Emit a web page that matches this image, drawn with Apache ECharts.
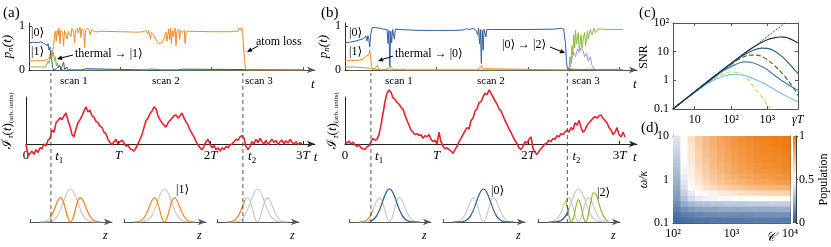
<!DOCTYPE html>
<html><head><meta charset="utf-8">
<script src="https://cdn.jsdelivr.net/npm/echarts@6/dist/echarts.min.js"></script>
<style>html,body{margin:0;padding:0;background:#fff}#c{width:831px;height:247px}</style>
</head><body><div id="c"></div>
<script>
// ================= DATA =================
// (a) populations p_n(t), t in units of T
const aTop_p0 = [[0,0.62],[0.05,0.63],[0.1,0.62],[0.13,0.64],[0.15,0.66],[0.17,0.6],[0.19,0.63],[0.2,0.55],[0.21,0.6],[0.22,0.45],[0.23,0.52],[0.24,0.3],[0.25,0.22],[0.26,0.06],[0.27,0],[0.3,0.03],[0.32,0],[0.34,0.1],[0.35,0],[0.38,0.18],[0.39,0.02],[0.42,0.06],[0.43,0],[0.55,0],[0.57,0.04],[0.58,0],[0.62,0.03],[0.64,0],[1.3,0],[1.32,0.02],[1.34,0],[1.6,0],[1.62,0.03],[1.64,0],[1.68,0.02],[1.7,0],[3.0,0]];
const aTop_p1 = [[0,0.21],[0.15,0.21],[0.2,0.24],[0.23,0.3],[0.25,0.35],[0.26,0.42],[0.27,0.55],[0.28,0.75],[0.29,0.88],[0.30,0.66],[0.31,0.9],[0.32,0.78],[0.33,0.95],[0.34,0.6],[0.35,0.9],[0.37,0.85],[0.38,0.55],[0.39,0.9],[0.41,0.93],[0.42,0.7],[0.43,0.88],[0.45,0.92],[0.46,0.76],[0.47,0.95],[0.49,0.85],[0.50,0.62],[0.51,0.9],[0.53,0.95],[0.54,0.84],[0.56,0.97],[0.57,0.74],[0.58,0.93],[0.60,0.88],[0.61,0.5],[0.62,0.9],[0.64,0.95],[0.66,0.9],[0.67,0.8],[0.69,0.92],[0.71,0.87],[0.73,0.84],[0.76,0.87],[0.8,0.88],[1.0,0.87],[1.2,0.86],[1.25,0.87],[1.28,0.9],[1.30,0.82],[1.31,0.9],[1.33,0.7],[1.34,0.85],[1.36,0.8],[1.38,0.74],[1.40,0.65],[1.42,0.6],[1.44,0.56],[1.46,0.62],[1.48,0.72],[1.50,0.86],[1.51,0.65],[1.53,0.93],[1.54,0.68],[1.55,0.95],[1.56,0.6],[1.57,0.9],[1.58,0.75],[1.60,0.95],[1.61,0.55],[1.62,0.88],[1.64,0.93],[1.65,0.7],[1.66,0.9],[1.68,0.85],[1.70,0.9],[1.71,0.6],[1.72,0.87],[1.75,0.88],[2.0,0.87],[2.2,0.87],[2.25,0.88],[2.27,0.91],[2.29,0.88],[2.30,0.95],[2.32,0.9],[2.33,0.96],[2.34,0.85],[2.35,0.5],[2.36,0.2],[2.37,0.05],[2.38,0],[3.0,0]];
const aTop_p2 = [[0,0.07],[0.15,0.07],[0.18,0.06],[0.2,0.1],[0.21,0.2],[0.22,0.15],[0.23,0.35],[0.24,0.25],[0.25,0.45],[0.26,0.3],[0.27,0.4],[0.28,0.2],[0.29,0.3],[0.30,0.1],[0.31,0.16],[0.32,0.05],[0.33,0.12],[0.35,0.02],[0.37,0.06],[0.38,0],[1.3,0],[1.33,0.03],[1.35,0],[1.45,0],[1.47,0.02],[1.5,0],[3.0,0]];
// (b) populations
const bTop_p0 = [[0,0.62],[0.05,0.63],[0.1,0.65],[0.15,0.68],[0.2,0.71],[0.22,0.7],[0.23,0.77],[0.24,0.66],[0.25,0.78],[0.26,0.72],[0.27,0.52],[0.28,0.8],[0.29,0.9],[0.30,0.97],[0.32,0.93],[0.34,0.96],[0.36,0.92],[0.38,0.95],[0.42,0.93],[0.46,0.92],[0.47,0.6],[0.48,0.9],[0.49,0.08],[0.50,0.88],[0.51,0.62],[0.52,0.92],[0.54,0.7],[0.55,0.93],[0.6,0.92],[0.7,0.91],[0.8,0.9],[1.0,0.9],[1.2,0.9],[1.3,0.91],[1.33,0.94],[1.36,0.92],[1.4,0.95],[1.43,0.9],[1.45,0.8],[1.46,0.95],[1.47,0.6],[1.48,0.92],[1.49,0.15],[1.5,0.9],[1.51,0.45],[1.52,0.93],[1.54,0.75],[1.55,0.92],[1.6,0.92],[2.0,0.92],[2.3,0.93],[2.36,0.95],[2.39,0.93],[2.41,0.6],[2.42,0.2],[2.43,0.03],[2.46,0.01],[2.5,0],[3.04,0]];
const bTop_p1 = [[0,0.22],[0.15,0.22],[0.2,0.25],[0.22,0.3],[0.24,0.28],[0.26,0.35],[0.27,0.45],[0.28,0.3],[0.29,0.1],[0.30,0.02],[0.33,0.05],[0.35,0.1],[0.37,0.02],[0.40,0],[0.48,0.03],[0.50,0.09],[0.52,0.02],[0.54,0],[0.6,0],[0.63,0.03],[0.66,0],[1.44,0],[1.47,0.04],[1.49,0.1],[1.51,0.03],[1.53,0],[2.42,0],[2.45,0.03],[2.5,0.02],[2.6,0.01],[2.7,0.02],[2.75,0],[3.04,0]];
const bTop_p2 = [[0,0.07],[0.1,0.065],[0.2,0.055],[0.27,0.04],[0.3,0.02],[0.35,0.01],[0.4,0],[2.43,0],[2.45,0.08],[2.46,0.3],[2.47,0.15],[2.48,0.55],[2.49,0.35],[2.50,0.8],[2.51,0.5],[2.52,0.9],[2.53,0.6],[2.55,0.85],[2.56,0.45],[2.58,0.8],[2.59,0.5],[2.61,0.78],[2.62,0.85],[2.63,0.55],[2.65,0.88],[2.66,0.7],[2.68,0.92],[2.70,0.8],[2.72,0.95],[2.74,0.85],[2.76,0.93],[2.78,0.9],[2.80,0.93],[2.9,0.92],[3.0,0.92],[3.04,0.92]];
const bTop_p3 = [[2.43,0],[2.46,0.05],[2.48,0.25],[2.50,0.4],[2.52,0.3],[2.54,0.48],[2.56,0.4],[2.58,0.5],[2.60,0.45],[2.62,0.3],[2.64,0.38],[2.66,0.2],[2.68,0.3],[2.70,0.1],[2.72,0.03],[2.75,0],[3.04,0]];
// signal I_tau(t): uniformly sampled (dt in units of T)
const redA_dt = 0.02167;
const redA = [0.0,-0.25,-0.2,-0.15,-0.22,-0.12,-0.18,-0.08,-0.1,0.0,
-0.04,0.08,0.12,0.3,0.25,0.45,0.5,0.56,0.52,0.6,
0.66,0.5,0.38,0.2,0.15,0.32,0.45,0.52,0.6,0.7,
0.79,0.68,0.72,0.6,0.57,0.48,0.46,0.38,0.35,0.25,
0.22,0.1,0.03,-0.02,0.05,0.1,0.0,0.05,0.08,0.02,
-0.05,-0.02,-0.1,-0.12,-0.15,-0.08,0.0,0.1,0.2,0.35,
0.5,0.55,0.65,0.7,0.79,0.75,0.6,0.52,0.45,0.4,
0.36,0.45,0.5,0.55,0.6,0.62,0.55,0.6,0.66,0.55,
0.47,0.4,0.3,0.22,0.15,0.05,-0.02,-0.08,-0.12,-0.05,
0.05,0.1,0.0,-0.08,-0.03,-0.12,-0.08,-0.15,-0.08,-0.12,
-0.05,-0.08,-0.02,0.0,0.05,0.1,0.08,0.15,0.18,0.12,
-0.05,-0.12,-0.05,0.05,0.0,0.1,0.03,0.12,0.05,0.0,
0.08,-0.02,0.05,0.1,0.03,0.08,-0.02,0.05,0.08,0.0,
0.07,0.02,0.1,0.04,0.0,0.05,-0.02,0.03,0.0];
const redB_dt = 0.02186;
const redB = [0.05,0.02,0.06,0.0,0.04,-0.02,-0.05,-0.02,-0.08,-0.1,
-0.12,-0.06,-0.04,0.05,0.12,0.08,0.1,0.2,0.4,0.65,
0.9,1.08,1.15,1.1,0.98,0.95,0.88,0.85,0.78,0.74,
0.62,0.5,0.4,0.3,0.25,0.2,0.22,0.18,0.2,0.12,
0.18,0.15,0.2,0.1,0.05,0.08,0.0,0.25,0.05,-0.05,
-0.1,-0.08,-0.12,-0.15,-0.2,-0.12,-0.05,0.05,0.12,0.2,
0.28,0.35,0.32,0.5,0.55,0.7,0.75,0.88,0.9,1.0,
1.08,1.05,1.15,1.08,1.0,0.92,0.85,0.75,0.7,0.6,
0.5,0.42,0.32,0.25,0.15,0.08,0.0,-0.08,-0.12,-0.05,
0.05,0.02,0.1,0.15,-0.1,-0.18,-0.22,-0.15,-0.1,-0.05,
0.0,0.02,0.08,0.05,0.12,0.1,0.18,0.15,0.22,0.2,
0.25,0.3,0.25,0.35,0.3,0.45,0.4,0.5,0.35,0.25,
0.3,0.4,0.45,0.5,0.55,0.58,0.55,0.6,0.62,0.55,
0.5,0.45,0.35,0.3,0.2,0.25,0.35,0.2,0.15,0.25,
0.15];
const scanTimesA = [0.27, 2.35];
const scanTimesB = [0.283, 2.43];
const midTickText = ['0','t1','T','2T','t2','3T'];
// wavefunction densities vs z
const zGrid = [-3,-2.75,-2.5,-2.25,-2,-1.75,-1.5,-1.25,-1,-0.75,-0.5,-0.25,0,0.25,0.5,0.75,1,1.25,1.5,1.75,2,2.25,2.5,2.75,3];
const psi0 = [0.0001,0.0005,0.0019,0.0063,0.0183,0.0468,0.1054,0.2096,0.3679,0.5698,0.7788,0.9394,1,0.9394,0.7788,0.5698,0.3679,0.2096,0.1054,0.0468,0.0183,0.0063,0.0019,0.0005,0.0001];
const psi1 = [0.0022,0.0079,0.0241,0.0641,0.1465,0.2866,0.4743,0.655,0.7358,0.641,0.3894,0.1174,0,0.1174,0.3894,0.641,0.7358,0.655,0.4743,0.2866,0.1465,0.0641,0.0241,0.0079,0.0022];
const psi2 = [0.02,0.07,0.17,0.36,0.61,0.84,0.88,0.64,0.25,0.006,0.13,0.49,0.68,0.49,0.13,0.006,0.25,0.64,0.88,0.84,0.61,0.36,0.17,0.07,0.02];
// (c) SNR vs gamma T
const snrRef   = [[2.5,0.1],[3100,100]];
const snrNavy  = [[2.5,0.1],[10,0.4],[30,1.2],[100,3.9],[300,11],[600,19],[1000,26],[1500,30],[2200,32.5],[3000,32],[4000,29],[5500,24],[7100,20]];
const snrTeal  = [[2.5,0.1],[10,0.4],[30,1.2],[100,3.8],[200,7],[400,11],[700,13.3],[1000,13],[1500,11],[2500,7],[4000,3.8],[7100,1.7]];
const snrOlive = [[2.5,0.1],[10,0.4],[30,1.2],[100,3.6],[200,6.2],[350,7.6],[500,7.6],[800,6.3],[1500,3.5],[3000,1.4],[5000,0.6],[7100,0.3]];
const snrMid   = [[2.5,0.1],[10,0.39],[30,1.1],[60,2.1],[100,3],[180,4.2],[250,4.4],[400,4.1],[800,2.8],[1500,1.6],[3000,0.85],[7100,0.44]];
const snrLight = [[2.5,0.1],[10,0.38],[30,0.95],[70,1.45],[100,1.58],[150,1.6],[300,1.35],[700,0.85],[1500,0.5],[3000,0.3],[7100,0.18]];
const snrLime  = [[2.5,0.1],[10,0.38],[30,1.0],[60,1.65],[100,1.95],[150,1.85],[250,1.3],[400,0.65],[700,0.27],[1000,0.14],[1300,0.09]];
// (d) population map: cell centres in log10 C and log10(omega/kappa); rows from top (high omega) to bottom
const hmLogC = [2.0625,2.1875,2.3125,2.4375,2.5625,2.6875,2.8125,2.9375,3.0625,3.1875,3.3125,3.4375,3.5625,3.6875,3.8125,3.9375];
const hmLogW = [0.9375,0.8125,0.6875,0.5625,0.4375,0.3125,0.1875,0.0625,-0.0625,-0.1875,-0.3125,-0.4375,-0.5625,-0.6875,-0.8125,-0.9375];
const popRows = [
[0.42,0.52,0.62,0.70,0.76,0.80,0.84,0.87,0.90,0.92,0.94,0.96,0.97,0.98,0.99,1.00],
[0.40,0.51,0.61,0.69,0.75,0.79,0.83,0.86,0.89,0.91,0.93,0.95,0.96,0.97,0.98,0.99],
[0.38,0.50,0.60,0.68,0.74,0.78,0.82,0.85,0.88,0.90,0.92,0.94,0.95,0.96,0.97,0.98],
[0.36,0.50,0.59,0.67,0.73,0.77,0.81,0.84,0.87,0.89,0.91,0.93,0.94,0.95,0.96,0.97],
[0.34,0.49,0.58,0.66,0.72,0.76,0.80,0.83,0.86,0.88,0.90,0.92,0.93,0.94,0.95,0.96],
[0.32,0.48,0.57,0.65,0.70,0.75,0.78,0.82,0.84,0.87,0.89,0.90,0.92,0.93,0.94,0.95],
[0.30,0.47,0.56,0.63,0.69,0.73,0.77,0.80,0.83,0.85,0.87,0.89,0.90,0.91,0.92,0.93],
[0.28,0.45,0.55,0.61,0.67,0.71,0.75,0.78,0.80,0.83,0.85,0.86,0.88,0.89,0.90,0.91],
[0.26,0.43,0.53,0.59,0.64,0.68,0.72,0.75,0.77,0.79,0.81,0.83,0.84,0.85,0.86,0.87],
[0.24,0.40,0.49,0.55,0.60,0.63,0.66,0.68,0.70,0.72,0.74,0.75,0.76,0.77,0.78,0.79],
[0.22,0.36,0.44,0.49,0.52,0.55,0.57,0.59,0.60,0.62,0.63,0.64,0.65,0.66,0.66,0.67],
[0.20,0.32,0.40,0.44,0.46,0.47,0.48,0.48,0.49,0.49,0.50,0.50,0.50,0.51,0.51,0.51],
[0.16,0.24,0.29,0.31,0.32,0.33,0.33,0.34,0.34,0.34,0.35,0.35,0.35,0.36,0.36,0.36],
[0.12,0.17,0.20,0.22,0.23,0.23,0.24,0.24,0.24,0.25,0.25,0.25,0.25,0.25,0.26,0.26],
[0.08,0.11,0.13,0.14,0.15,0.15,0.16,0.16,0.16,0.16,0.16,0.17,0.17,0.17,0.17,0.17],
[0.05,0.07,0.08,0.09,0.09,0.10,0.10,0.10,0.10,0.10,0.10,0.11,0.11,0.11,0.11,0.11]];

// ================= BUILD =================
const FONT = '"Liberation Serif","DejaVu Serif",serif';
const COL = {orange:'#f5891f', blue:'#33609e', green:'#8cb83a', purple:'#a093dc', red:'#e8222b', gray:'#c9c9c9'};
const grids=[], xAxes=[], yAxes=[], series=[], visualMaps=[], graphics=[];
const addGrid=g=>{grids.push(g);return grids.length-1;};
const addX=a=>{xAxes.push(Object.assign({type:'value',splitLine:{show:false}},a));return xAxes.length-1;};
const addY=a=>{yAxes.push(Object.assign({type:'value',splitLine:{show:false}},a));return yAxes.length-1;};
const decLabel = {'-1':'0.1','0':'1','1':'10','2':'10²','3':'10³','4':'10⁴'};

const PA = {left:26, right:315, Tpx:92.3};
const PB = {left:345, right:637, Tpx:91.5};

function nameRich(){ return {
  i:{fontFamily:FONT,fontStyle:'italic',fontSize:13,color:'#000'},
  b:{fontFamily:FONT,fontSize:13,color:'#000'},
  s:{fontFamily:FONT,fontStyle:'italic',fontSize:9,color:'#000',padding:[6,0,0,0]},
  ss:{fontFamily:FONT,fontSize:7,color:'#000',padding:[7,0,0,0]}
};}

function topPanel(P, traces, nameGap){
  const w = P.right-P.left;
  const g = addGrid({left:P.left, top:23, width:w, height:47});
  const xi = addX({gridIndex:g, min:0, max:w/P.Tpx,
    axisLine:{show:true, onZero:false, symbol:['none','arrow'], symbolSize:[5,8], lineStyle:{color:'#555',width:1}},
    axisTick:{show:true, inside:true, length:3, customValues:[1,2,3], lineStyle:{color:'#555'}},
    axisLabel:{show:false},
    name:'t', nameLocation:'end', nameGap:-4,
    nameTextStyle:{fontFamily:FONT,fontStyle:'italic',fontSize:13,color:'#000',verticalAlign:'top',padding:[8,0,0,0]}});
  const yi = addY({gridIndex:g, min:0, max:47/44,
    axisLine:{show:true, onZero:false, lineStyle:{color:'#333',width:1}},
    axisTick:{show:true, inside:true, length:3, customValues:[0,1], lineStyle:{color:'#333'}},
    axisLabel:{show:true, customValues:[0,1], fontFamily:FONT, fontSize:12, color:'#000', margin:4},
    name:'{i|p}{s|n}{i|(t)}', nameLocation:'middle', nameGap:nameGap, nameRotate:90,
    nameTextStyle:{rich:nameRich()}});
  traces.forEach(([data,color])=>series.push({type:'line', xAxisIndex:xi, yAxisIndex:yi, data, symbol:'none', lineStyle:{color,width:1}, silent:true}));
}

function midPanel(P, vals, dt, scans, nameGap){
  const w = P.right-P.left;
  const g = addGrid({left:P.left, top:97, width:w, height:47});
  const pos = [0, scans[0]+0.09, 1, 2, scans[1]+0.1, 3];
  const richMap = {'0':'{r|0}','t1':'{i|t}{sub|1}','T':'{i|T}','2T':'{r|2}{i|T}','t2':'{i|t}{sub|2}','3T':'{r|3}{i|T}'};
  const lab = {}; pos.forEach((p,i)=>lab[p.toFixed(3)] = richMap[midTickText[i]]);
  const xi = addX({gridIndex:g, min:0, max:w/P.Tpx,
    axisLine:{show:true, onZero:false, symbol:['none','arrow'], symbolSize:[5,8], lineStyle:{color:'#222',width:1}},
    axisTick:{show:true, inside:true, length:3, customValues:[1,2,3], lineStyle:{color:'#222'}},
    axisLabel:{show:true, customValues:pos, margin:5, formatter:v=>lab[Number(v).toFixed(3)]||'',
      rich:{r:{fontFamily:FONT,fontSize:13,color:'#000'}, i:{fontFamily:FONT,fontStyle:'italic',fontSize:13,color:'#000'}, sub:{fontFamily:FONT,fontSize:9,color:'#000',padding:[7,0,0,0]}}},
    name:'t', nameLocation:'end', nameGap:-4,
    nameTextStyle:{fontFamily:FONT,fontStyle:'italic',fontSize:13,color:'#000',verticalAlign:'top',padding:[7,0,0,0]}});
  const yi = addY({gridIndex:g, min:0, max:1,
    axisLine:{show:true, onZero:false, lineStyle:{color:'#222',width:1}},
    axisTick:{show:false}, axisLabel:{show:false},
    name:'{b|ℐ}{s|τ}{b|(}{i|t}{b|)}{ss|(arb. units)}', nameLocation:'middle', nameGap:nameGap, nameRotate:90,
    nameTextStyle:{rich:nameRich()}});
  series.push({type:'line', xAxisIndex:xi, yAxisIndex:yi, data:vals.map((v,i)=>[i*dt,v]), clip:false, symbol:'none', lineStyle:{color:COL.red,width:1.6}, silent:true});
}

function dashOverlay(P, scans){
  const w = P.right-P.left;
  const g = addGrid({left:P.left, top:73, width:w, height:150});
  const xi = addX({gridIndex:g, min:0, max:w/P.Tpx, show:false});
  const yi = addY({gridIndex:g, min:0, max:1, show:false});
  scans.forEach(t=>series.push({type:'line', xAxisIndex:xi, yAxisIndex:yi, data:[[t,0],[t,1]], symbol:'none', z:5, lineStyle:{color:'#555',width:1,type:[4,3]}, silent:true}));
}

const Z_MIN=-4.05, Z_MAX=4.15, Z_PX=10, B_TOP=186, B_H=36;
function bottomPanel(left, layers){
  const g = addGrid({left, top:B_TOP, width:82, height:B_H});
  const xi = addX({gridIndex:g, min:Z_MIN, max:Z_MAX,
    axisLine:{show:true, onZero:false, symbol:['none','arrow'], symbolSize:[5,8], lineStyle:{color:'#555',width:1}},
    axisTick:{show:true, inside:true, length:3, customValues:[Z_MIN+0.02], lineStyle:{color:'#555'}},
    axisLabel:{show:false},
    name:'z', nameLocation:'end', nameGap:-9,
    nameTextStyle:{fontFamily:FONT,fontStyle:'italic',fontSize:12,color:'#000',verticalAlign:'top',padding:[8,0,0,0]}});
  const yi = addY({gridIndex:g, min:0, max:B_H/33, show:false});
  layers.forEach(L=>{
    let X=xi, Y=yi;
    if (L.cut!==undefined){
      // the coloured part of this density is only shown on one side of the scan line: a clipping sub-grid
      const lo = L.side==='left' ? Z_MIN : L.cut, hi = L.side==='left' ? L.cut : Z_MAX;
      const g2 = addGrid({left:left+(lo-Z_MIN)*Z_PX, top:B_TOP, width:(hi-lo)*Z_PX, height:B_H});
      X = addX({gridIndex:g2, min:lo, max:hi, show:false});
      Y = addY({gridIndex:g2, min:0, max:B_H/33, show:false});
    }
    series.push({type:'line', xAxisIndex:X, yAxisIndex:Y, data:zGrid.map((z,i)=>[z,L.vals[i]]), smooth:0.35, symbol:'none', clip:true, lineStyle:{color:L.color,width:1.2}, silent:true});
  });
}
// z-position of a scan line inside a bottom panel
const zCut = (P, t, left) => (P.left + t*P.Tpx - (left - Z_MIN*Z_PX))/Z_PX;

// ---- panel (a)
topPanel(PA, [[aTop_p2,COL.green],[aTop_p0,COL.blue],[aTop_p1,COL.orange]], 11);
midPanel(PA, redA, redA_dt, scanTimesA, 11);
bottomPanel(30, [{vals:psi0,color:COL.gray},{vals:psi1,color:COL.gray},
  {vals:psi0,color:'#8fb4dc',cut:zCut(PA,scanTimesA[0],30),side:'left'},
  {vals:psi1,color:COL.orange,cut:zCut(PA,scanTimesA[0],30),side:'right'}]);
bottomPanel(124, [{vals:psi0,color:COL.gray},{vals:psi1,color:COL.orange}]);
bottomPanel(217, [{vals:psi0,color:COL.gray},{vals:psi1,color:COL.gray},
  {vals:psi1,color:COL.orange,cut:zCut(PA,scanTimesA[1],217),side:'left'}]);
dashOverlay(PA, scanTimesA);
// ---- panel (b)
topPanel(PB, [[bTop_p3,COL.purple],[bTop_p2,COL.green],[bTop_p1,COL.orange],[bTop_p0,COL.blue]], 5);
midPanel(PB, redB, redB_dt, scanTimesB, 5);
bottomPanel(349, [{vals:psi0,color:COL.gray},{vals:psi1,color:COL.gray},
  {vals:psi1,color:COL.orange,cut:zCut(PB,scanTimesB[0],349),side:'left'},
  {vals:psi0,color:COL.blue,cut:zCut(PB,scanTimesB[0],349),side:'right'}]);
bottomPanel(443, [{vals:psi1,color:COL.gray},{vals:psi0,color:COL.blue}]);
bottomPanel(538, [{vals:psi0,color:COL.gray},{vals:psi1,color:COL.gray},
  {vals:psi0,color:COL.blue,cut:zCut(PB,scanTimesB[1],538),side:'left'},
  {vals:psi2,color:COL.green,cut:zCut(PB,scanTimesB[1],538),side:'right'}]);
dashOverlay(PB, scanTimesB);

// ---- panel (c)
(function(){
  const g = addGrid({left:673, top:23, width:125, height:86});
  const ax = {lineStyle:{color:'#555',width:1}};
  const xi = addX({gridIndex:g, min:0.4, max:3.85,
    axisLine:Object.assign({show:true,onZero:false},ax),
    axisTick:{show:true,inside:true,length:3,customValues:[1,2,3],lineStyle:{color:'#555'}},
    axisLabel:{customValues:[1,2,3], formatter:v=>decLabel[String(Math.round(v))], fontFamily:FONT, fontSize:12, color:'#000', margin:5},
    name:'γT', nameLocation:'end', nameGap:-6,
    nameTextStyle:{fontFamily:FONT,fontStyle:'italic',fontSize:12,color:'#000',verticalAlign:'top',padding:[5,0,0,0]}});
  addX({gridIndex:g, position:'top', min:0.4, max:3.85, axisLine:Object.assign({show:true,onZero:false},ax),
    axisTick:{show:true,inside:true,length:3,customValues:[1,2,3],lineStyle:{color:'#555'}}, axisLabel:{show:false}});
  const yi = addY({gridIndex:g, min:-1, max:2, interval:1,
    axisLine:Object.assign({show:true,onZero:false},ax),
    axisTick:{show:true,inside:true,length:3,lineStyle:{color:'#555'}},
    axisLabel:{formatter:v=>decLabel[String(Math.round(v))], fontFamily:FONT, fontSize:12, color:'#000', margin:4},
    name:'SNR', nameLocation:'middle', nameGap:14, nameRotate:90,
    nameTextStyle:{fontFamily:FONT,fontSize:12,color:'#000',padding:[0,0,0,18]}});
  addY({gridIndex:g, position:'right', min:-1, max:2, interval:1, axisLine:Object.assign({show:true,onZero:false},ax),
    axisTick:{show:true,inside:true,length:3,lineStyle:{color:'#555'}}, axisLabel:{show:false}});
  const L = d=>d.map(([x,y])=>[Math.log10(x),Math.log10(y)]);
  const curves = [[snrRef,'#222','dotted',1],[snrLime,'#c8de6e','dashed',1.2],[snrLight,'#7fc2ec','solid',1.2],[snrMid,'#3b80b0','solid',1.2],[snrOlive,'#4f6d2c','dashed',1.2],[snrTeal,'#2b5d80','solid',1.2],[snrNavy,'#1c3350','solid',1.2]];
  curves.forEach(([d,c,t,w])=>series.push({type:'line', xAxisIndex:xi, yAxisIndex:yi, data:L(d), smooth:d.length>2?0.4:false, symbol:'none', lineStyle:{color:c,type:t,width:w}, silent:true}));
})();

// ---- panel (d)
(function(){
  const g = addGrid({left:673, top:136, width:117, height:87});
  const ax = {lineStyle:{color:'#333',width:1}};
  const xi = addX({gridIndex:g, min:2, max:4,
    axisLine:Object.assign({show:true,onZero:false},ax),
    axisTick:{show:true,inside:true,length:3,customValues:[2,3,4],lineStyle:{color:'#333'}},
    axisLabel:{customValues:[2,3,4], formatter:v=>decLabel[String(Math.round(v))], fontFamily:FONT, fontSize:12, color:'#000', margin:5},
    name:'𝒞', nameLocation:'end', nameGap:-24,
    nameTextStyle:{fontFamily:FONT,fontStyle:'italic',fontSize:13,color:'#000',verticalAlign:'top',padding:[8,0,0,0]}});
  addX({gridIndex:g, position:'top', min:2, max:4, axisLine:Object.assign({show:true,onZero:false},ax),
    axisTick:{show:true,inside:true,length:3,customValues:[2,3,4],lineStyle:{color:'#333'}}, axisLabel:{show:false}});
  const yi = addY({gridIndex:g, min:-1, max:1, interval:1,
    axisLine:Object.assign({show:true,onZero:false},ax),
    axisTick:{show:true,inside:true,length:3,lineStyle:{color:'#333'}},
    axisLabel:{formatter:v=>decLabel[String(Math.round(v))], fontFamily:FONT, fontSize:12, color:'#000', margin:4},
    name:'ω/κ', nameLocation:'middle', nameGap:16, nameRotate:90,
    nameTextStyle:{fontFamily:FONT,fontStyle:'italic',fontSize:12,color:'#000'}});
  addY({gridIndex:g, position:'right', min:-1, max:1, interval:1, axisLine:Object.assign({show:true,onZero:false},ax),
    axisTick:{show:true,inside:true,length:3,lineStyle:{color:'#333'}}, axisLabel:{show:false}});
  const data=[]; popRows.forEach((row,r)=>row.forEach((v,c)=>data.push([hmLogC[c],hmLogW[r],v])));
  const hx=(hmLogC[1]-hmLogC[0])/2, hy=(hmLogW[0]-hmLogW[1])/2;
  const idx = series.length;
  series.push({type:'custom', xAxisIndex:xi, yAxisIndex:yi, data, encode:{x:0,y:1}, silent:true, z:1,
    renderItem:(p,api)=>{const x=api.value(0),y=api.value(1);const a=api.coord([x-hx,y+hy]),b=api.coord([x+hx,y-hy]);
      return {type:'rect', shape:{x:a[0],y:a[1],width:b[0]-a[0]+0.7,height:b[1]-a[1]+0.7}, style:{fill:api.visual('color')}};}});
  visualMaps.push({type:'continuous', show:false, seriesIndex:idx, dimension:2, min:0, max:1, inRange:{color:['#2b5793','#ffffff','#ef7a0e']}});
  // colour bar
  const gc = addGrid({left:793, top:136, width:4, height:87});
  const cx = addX({gridIndex:gc, min:0, max:1, show:false});
  const cy = addY({gridIndex:gc, position:'right', min:0, max:1, interval:0.5,
    axisLine:{show:true,onZero:false,lineStyle:{color:'#333',width:1}},
    axisTick:{show:true,inside:false,length:2,lineStyle:{color:'#333'}},
    axisLabel:{fontFamily:FONT,fontSize:12,color:'#000',margin:3,formatter:v=>String(v)},
    name:'Population', nameLocation:'middle', nameGap:20, nameRotate:90,
    nameTextStyle:{fontFamily:FONT,fontSize:12,color:'#000'}});
  series.push({type:'custom', xAxisIndex:cx, yAxisIndex:cy, data:[[0,0]], silent:true,
    renderItem:(p,api)=>{const a=api.coord([0,1]),b=api.coord([1,0]);
      return {type:'rect', shape:{x:a[0],y:a[1],width:b[0]-a[0],height:b[1]-a[1]},
        style:{fill:new echarts.graphic.LinearGradient(0,0,0,1,[{offset:0,color:'#ef7a0e'},{offset:0.5,color:'#ffffff'},{offset:1,color:'#2b5793'}])}};}});
})();

// ---- text annotations
function txt(x,y,text,size,extra){graphics.push({type:'text',x,y,z:50,style:Object.assign({text,fontSize:size||12,fontFamily:FONT,fill:'#000',align:'left',verticalAlign:'middle'},extra||{})});}
function arrow(x1,y1,x2,y2){const dx=x2-x1,dy=y2-y1,L=Math.hypot(dx,dy),ux=dx/L,uy=dy/L,h=5,w=2.3,bx=x2-ux*h,by=y2-uy*h;
  graphics.push({type:'line',z:50,shape:{x1,y1,x2:bx,y2:by},style:{stroke:'#000',lineWidth:1}});
  graphics.push({type:'polygon',z:50,shape:{points:[[x2,y2],[bx-uy*w,by+ux*w],[bx+uy*w,by-ux*w]]},style:{fill:'#000'}});}
txt(3,13,'(a)',15); txt(321,13,'(b)',15); txt(639,13,'(c)',15); txt(641,128,'(d)',15);
txt(60,81,'scan 1',11); txt(152,81,'scan 2',11); txt(245,81,'scan 3',11);
txt(385,81,'scan 1',11); txt(477,81,'scan 2',11); txt(572,81,'scan 3',11);
txt(31,33,'|0⟩',12); txt(31,52,'|1⟩',12); txt(349,33,'|0⟩',12); txt(349,52,'|1⟩',12);
txt(75,54,'thermal → |1⟩',12); arrow(73,55,57,59);
txt(256,42,'atom loss',12); arrow(258,46,247,52);
txt(395,54,'thermal → |0⟩',12); arrow(393,56,378,61);
txt(502,45,'|0⟩ → |2⟩',12); arrow(550,47,565,53);
txt(176,190,'|1⟩',12); txt(491,191,'|0⟩',12); txt(597,193,'|2⟩',12);

const chart = echarts.init(document.getElementById('c'), null, {renderer:'canvas'});
chart.setOption({animation:false, textStyle:{fontFamily:FONT}, grid:grids, xAxis:xAxes, yAxis:yAxes, series, visualMap:visualMaps, graphic:graphics});
</script></body></html>
